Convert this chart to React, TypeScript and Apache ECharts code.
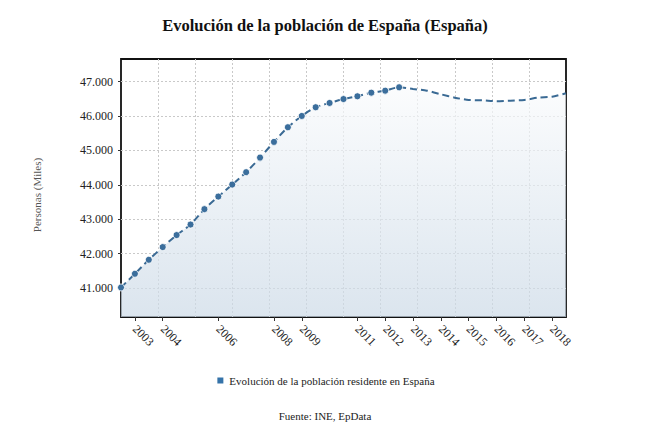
import React, { useEffect, useRef } from "react";
import * as echarts from "echarts";

// Semiannual reference dates (1 January / 1 July)
const periods: string[] = [
  "2002-07", "2003-01", "2003-07", "2004-01", "2004-07", "2005-01", "2005-07",
  "2006-01", "2006-07", "2007-01", "2007-07", "2008-01", "2008-07", "2009-01",
  "2009-07", "2010-01", "2010-07", "2011-01", "2011-07", "2012-01", "2012-07",
  "2013-01", "2013-07", "2014-01", "2014-07", "2015-01", "2015-07", "2016-01",
  "2016-07", "2017-01", "2017-07", "2018-01", "2018-07",
];

// Resident population, thousands of people
const population: number[] = [
  41017, 41415, 41822, 42191, 42540, 42847, 43294,
  43660, 44009, 44369, 44793, 45249, 45676, 46004,
  46257, 46382, 46495, 46576, 46681, 46739, 46838,
  46789, 46739, 46634, 46536, 46469, 46460, 46431,
  46449, 46469, 46536, 46565, 46663,
];

// Years that get a label on the horizontal axis
const yearTicks: string[] = [
  "2003", "2004", "2006", "2008", "2009", "2011", "2012",
  "2013", "2014", "2015", "2016", "2017", "2018",
];

const seriesName = "Evolución de la población residente en España";
const titleText = "Evolución de la población de España (España)";
const yAxisTitle = "Personas (Miles)";
const sourceText = "Fuente: INE, EpData";

const FONT = "'Liberation Serif', 'Times New Roman', serif";
const MARKED_POINTS = 21; // points drawn with a circle marker

const fmtThousands = (v: number) =>
  String(Math.round(v)).replace(/\B(?=(\d{3})+(?!\d))/g, ".");

const showYear = (_i: number, value: string) =>
  value.endsWith("-01") && yearTicks.includes(value.slice(0, 4));

export default function App() {
  const ref = useRef<HTMLDivElement>(null);

  useEffect(() => {
    if (!ref.current) return;
    const chart = echarts.init(ref.current, undefined, { renderer: "svg" });

    const gridLine = { color: "#c9c9c9", type: [2, 2], width: 1 };

    chart.setOption({
      animation: false,
      backgroundColor: "#ffffff",
      textStyle: { fontFamily: FONT },
      title: {
        text: titleText,
        left: "center",
        top: 12,
        textStyle: { fontFamily: FONT, fontSize: 16.5, fontWeight: "bold", color: "#111" },
      },
      legend: {
        data: [{ name: seriesName, itemStyle: { color: "#3573a9" } }],
        top: 370,
        left: "center",
        icon: "rect",
        itemWidth: 8,
        itemHeight: 8,
        itemGap: 6,
        textStyle: { fontFamily: FONT, fontSize: 11, color: "#222" },
      },
      grid: {
        left: 121,
        right: 84,
        top: 59,
        bottom: 121,
        show: true,
        borderColor: "#111",
        borderWidth: 1.8,
        backgroundColor: "transparent",
      },
      xAxis: [
        {
          type: "category",
          data: periods,
          boundaryGap: false,
          axisLine: { show: false },
          axisTick: { show: true, interval: showYear, length: 4, lineStyle: { color: "#333" } },
          axisLabel: {
            interval: showYear,
            formatter: (v: string) => v.slice(0, 4),
            rotate: -45,
            margin: 10,
            fontFamily: FONT,
            fontSize: 12,
            color: "#222",
          },
          splitLine: { show: false },
        },
        {
          type: "value",
          min: 0,
          max: 12,
          interval: 1,
          position: "top",
          axisLine: { show: false },
          axisTick: { show: false },
          axisLabel: { show: false },
          splitLine: { show: true, showMinLine: false, showMaxLine: false, lineStyle: gridLine },
        },
      ],
      yAxis: {
        type: "value",
        min: 40158,
        max: 47660,
        splitNumber: 7,
        axisLine: { show: false },
        axisTick: { show: true, length: 3, lineStyle: { color: "#333" } },
        axisLabel: {
          showMinLabel: false,
          showMaxLabel: false,
          margin: 8,
          fontFamily: FONT,
          fontSize: 12,
          color: "#222",
          formatter: (v: number) => (v % 1000 === 0 ? fmtThousands(v) : ""),
        },
        splitLine: { show: true, showMinLine: false, showMaxLine: false, lineStyle: gridLine },
      },
      graphic: [
        {
          type: "text",
          x: 37,
          y: 195,
          rotation: Math.PI / 2,
          style: {
            text: yAxisTitle,
            fontFamily: FONT,
            fontSize: 11,
            fill: "#555",
            align: "center",
            verticalAlign: "middle",
          },
        },
        {
          type: "text",
          x: 325,
          y: 416,
          style: {
            text: sourceText,
            fontFamily: FONT,
            fontSize: 11,
            fill: "#222",
            align: "center",
            verticalAlign: "middle",
          },
        },
      ],
      series: [
        {
          name: seriesName,
          type: "line",
          xAxisIndex: 0,
          data: population,
          smooth: 0.25,
          symbol: "circle",
          symbolSize: (_v: number, p: any) => (p.dataIndex < MARKED_POINTS ? 7 : 0),
          showAllSymbol: true,
          itemStyle: { color: "#3b6e9c", borderColor: "#ffffff", borderWidth: 0.8 },
          lineStyle: { color: "#3a6a94", width: 2, type: [7, 4] },
          areaStyle: {
            origin: "start",
            color: new echarts.graphic.LinearGradient(
              0, 59, 0, 317,
              [
                { offset: 0, color: "#ffffff" },
                { offset: 1, color: "#ccdae7" },
              ],
              true
            ),
          },
          z: 3,
        },
      ],
    });

    return () => chart.dispose();
  }, []);

  return (
    <div
      ref={ref}
      style={{ position: "fixed", left: 0, top: 0, width: 650, height: 438 }}
    />
  );
}
